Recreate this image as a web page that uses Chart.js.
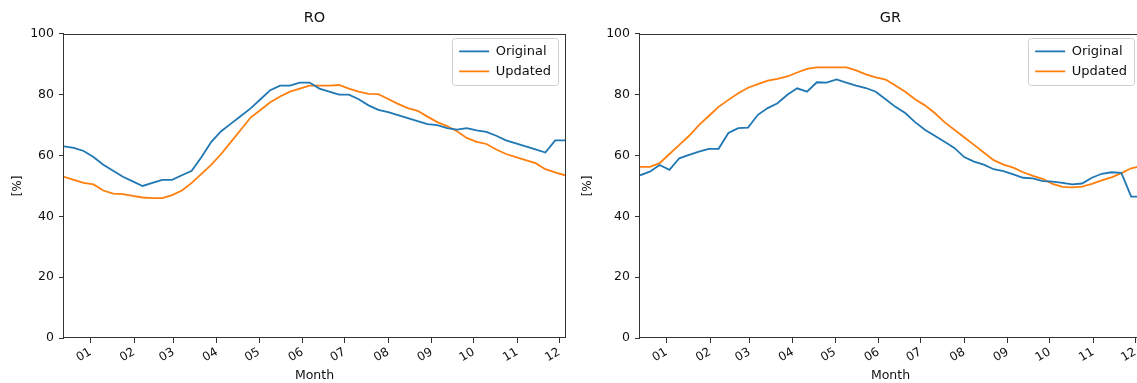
<!DOCTYPE html>
<html>
<head>
<meta charset="utf-8">
<script src="https://cdn.jsdelivr.net/npm/chart.js@4.4.1/dist/chart.umd.min.js"></script>
<style>
  html, body { margin: 0; padding: 0; background: #fff; overflow: hidden; width: 1137px; height: 383px; }
  .panel { position: absolute; top: 0; height: 383px; }
  #panel-ro { left: 0; width: 570px; }
  #panel-gr { left: 570px; width: 575px; }
</style>
</head>
<body>
<div class="panel" id="panel-ro"><canvas id="chart-ro"></canvas></div>
<div class="panel" id="panel-gr"><canvas id="chart-gr"></canvas></div>
<script>
// Weekly samples, as day offsets from 1 January
const weekDays = [-19, -12, -5, 2, 9, 16, 23, 30, 37, 44,
  51, 58, 65, 72, 79, 86, 93, 100, 107, 114,
  121, 128, 135, 142, 149, 156, 163, 170, 177, 184,
  191, 198, 205, 212, 219, 226, 233, 240, 247, 254,
  261, 268, 275, 282, 289, 296, 303, 310, 317, 324,
  331, 338];

// Month boundaries (day offsets) and their tick labels
const monthStartDays = [0, 31, 59, 90, 120, 151, 181, 212, 243, 273, 304, 334];
const monthLabels = ['01', '02', '03', '04', '05', '06', '07', '08', '09', '10', '11', '12'];

const yTicks = [0, 20, 40, 60, 80, 100];

// RO weekly shares [%]
const roOriginal = [63, 62.5, 61.5, 59.5, 57, 55, 53, 51.5, 50, 51,
  52, 52, 53.5, 55, 59.5, 64.5, 68, 70.5, 73, 75.5,
  78.5, 81.5, 83, 83, 84, 84, 82, 81, 80, 80,
  78.5, 76.5, 75, 74.3, 73.3, 72.3, 71.3, 70.3, 70, 69,
  68.5, 69, 68.3, 67.8, 66.5, 65, 64, 63, 62, 61,
  65, 65];
const roUpdated = [53, 52, 51, 50.5, 48.5, 47.5, 47.3, 46.7, 46.2, 46,
  46, 47, 48.5, 51, 54, 57, 60.5, 64.5, 68.5, 72.5,
  75, 77.5, 79.4, 81, 82, 83, 83, 83, 83.2, 82,
  81, 80.3, 80.2, 78.6, 77, 75.6, 74.7, 72.8, 71, 69.7,
  68, 65.8, 64.5, 63.8, 62, 60.5, 59.5, 58.5, 57.5, 55.5,
  54.5, 53.5];

// GR weekly shares [%]
const grOriginal = [53.5, 54.7, 56.9, 55.3, 59.1, 60.2, 61.3, 62.2, 62.2, 67.4,
  69, 69.2, 73.4, 75.6, 77.2, 80, 82.1, 81, 84.1, 84,
  85, 84, 83, 82.2, 81, 78.5, 76, 74, 71, 68.5,
  66.5, 64.5, 62.5, 59.5, 58, 57, 55.5, 54.9, 53.8, 52.7,
  52.5, 51.6, 51.4, 51, 50.5, 50.8, 52.7, 54, 54.5, 54.3,
  46.5, 46.5];
const grUpdated = [56.3, 56.3, 57.5, 60.5, 63.5, 66.5, 70, 73, 76, 78.3,
  80.5, 82.3, 83.5, 84.6, 85.2, 86, 87.3, 88.5, 89, 89,
  89, 89, 88, 86.7, 85.7, 85, 83, 81, 78.5, 76.5,
  74, 71, 68.5, 66, 63.5, 61, 58.5, 57, 56, 54.5,
  53.3, 52.3, 50.7, 49.7, 49.5, 49.8, 50.7, 51.8, 52.8, 54.2,
  55.8, 56.5];

const FONT = 'DejaVu Sans';
const INK = '#111';
const SPINE = '#333';
const BLUE = '#1f77b4';
const ORANGE = '#ff7f0e';

Chart.defaults.font.family = FONT;
Chart.defaults.color = INK;

function points(values) {
  return values.map((v, i) => ({ x: weekDays[i], y: v }));
}

// Box around the plotting area, drawn over the lines like axes spines
const frameBox = {
  id: 'frameBox',
  afterDatasetsDraw(chart) {
    const { ctx, chartArea: a } = chart;
    ctx.save();
    ctx.strokeStyle = SPINE;
    ctx.lineWidth = 1;
    ctx.strokeRect(Math.round(a.left) - 0.5, Math.round(a.top) + 0.5,
      Math.round(a.right - a.left) + 1, Math.round(a.bottom - a.top) - 1);
    ctx.restore();
  }
};

// Moves the legend into the upper right corner of the plot and frames it
const cornerLegend = {
  id: 'cornerLegend',
  afterLayout(chart) {
    const lg = chart.legend;
    if (!lg || !lg.legendHitBoxes || !lg.legendHitBoxes.length) return;
    const a = chart.chartArea;
    const hb = lg.legendHitBoxes;
    const pad = lg.options.labels.padding;
    const contentW = Math.max(...hb.map(h => h.width));
    const tops = hb.map(h => h.top);
    const contentH = Math.max(...tops) - Math.min(...tops) + hb[hb.length - 1].height;
    const padX = 7, padY = 7, marginX = 7, marginY = 4;
    const frameRight = a.right - marginX;
    const frameTop = a.top + marginY;
    const contentLeft = frameRight - padX - contentW;
    const contentTop = frameTop + padY;
    const w = lg.width, h = lg.height;
    lg.left = contentLeft - pad;
    lg.top = contentTop - pad;
    lg.right = lg.left + w;
    lg.bottom = lg.top + h;
    chart.$legendFrame = { x: contentLeft - padX, y: frameTop, w: contentW + 2 * padX, h: contentH + 2 * padY };
  },
  beforeDraw(chart) {
    const f = chart.$legendFrame;
    if (!f) return;
    const { ctx } = chart;
    ctx.save();
    ctx.fillStyle = 'rgba(255,255,255,0.8)';
    ctx.strokeStyle = '#d0d0d0';
    ctx.lineWidth = 1;
    ctx.beginPath();
    ctx.roundRect(Math.round(f.x) + 0.5, Math.round(f.y) + 0.5, Math.round(f.w), Math.round(f.h), 3);
    ctx.fill();
    ctx.stroke();
    ctx.restore();
  }
};

function makePanel(canvasId, title, original, updated, yAxisWidth, padRight) {
  return new Chart(document.getElementById(canvasId), {
    type: 'line',
    data: {
      datasets: [
        { label: 'Original', data: points(original), borderColor: BLUE, backgroundColor: BLUE,
          borderWidth: 1.8, pointRadius: 0, tension: 0, fill: false },
        { label: 'Updated', data: points(updated), borderColor: ORANGE, backgroundColor: ORANGE,
          borderWidth: 1.8, pointRadius: 0, tension: 0, fill: false }
      ]
    },
    options: {
      responsive: true,
      maintainAspectRatio: false,
      animation: false,
      devicePixelRatio: 1,
      events: [],
      layout: { padding: { top: 0, left: 0, right: padRight, bottom: 0 } },
      plugins: {
        title: {
          display: true, text: title, fullSize: false, color: INK,
          font: { family: FONT, size: 14.5, weight: 'normal', lineHeight: 1.2 },
          padding: { top: 9.5, bottom: 7 }
        },
        legend: {
          position: 'chartArea', align: 'start',
          labels: {
            usePointStyle: true, pointStyle: 'line', pointStyleWidth: 30, boxHeight: 13,
            padding: 7, color: INK, font: { family: FONT, size: 13 }
          }
        },
        tooltip: { enabled: false }
      },
      scales: {
        x: {
          type: 'linear',
          min: weekDays[0],
          max: weekDays[weekDays.length - 1],
          afterBuildTicks: s => { s.ticks = monthStartDays.map(v => ({ value: v })); },
          afterFit: s => { s.height = 45; s.paddingLeft = 0; s.paddingRight = 0; },
          ticks: {
            autoSkip: false, minRotation: 30, maxRotation: 30, padding: 2,
            color: INK, font: { family: FONT, size: 12 },
            callback: v => monthLabels[monthStartDays.indexOf(v)]
          },
          grid: { display: true, drawOnChartArea: false, drawTicks: true, tickLength: 5, color: SPINE },
          border: { display: false },
          title: { display: true, text: 'Month', color: INK, font: { family: FONT, size: 12.5 },
                   padding: { top: 0, bottom: 0 } }
        },
        y: {
          min: 0, max: 100,
          afterBuildTicks: s => { s.ticks = yTicks.map(v => ({ value: v })); },
          afterFit: s => { s.width = yAxisWidth; s.paddingTop = 0; s.paddingBottom = 0; },
          ticks: { padding: 5, color: INK, font: { family: FONT, size: 12.5 } },
          grid: { display: true, drawOnChartArea: false, drawTicks: true, tickLength: 5, color: SPINE },
          border: { display: false },
          title: { display: true, text: '[%]', color: INK, font: { family: FONT, size: 12 },
                   padding: { top: 11, bottom: 0 } }
        }
      }
    },
    plugins: [frameBox, cornerLegend]
  });
}

makePanel('chart-ro', 'RO', roOriginal, roUpdated, 64, 5);
makePanel('chart-gr', 'GR', grOriginal, grUpdated, 70, 4);
</script>
</body>
</html>
